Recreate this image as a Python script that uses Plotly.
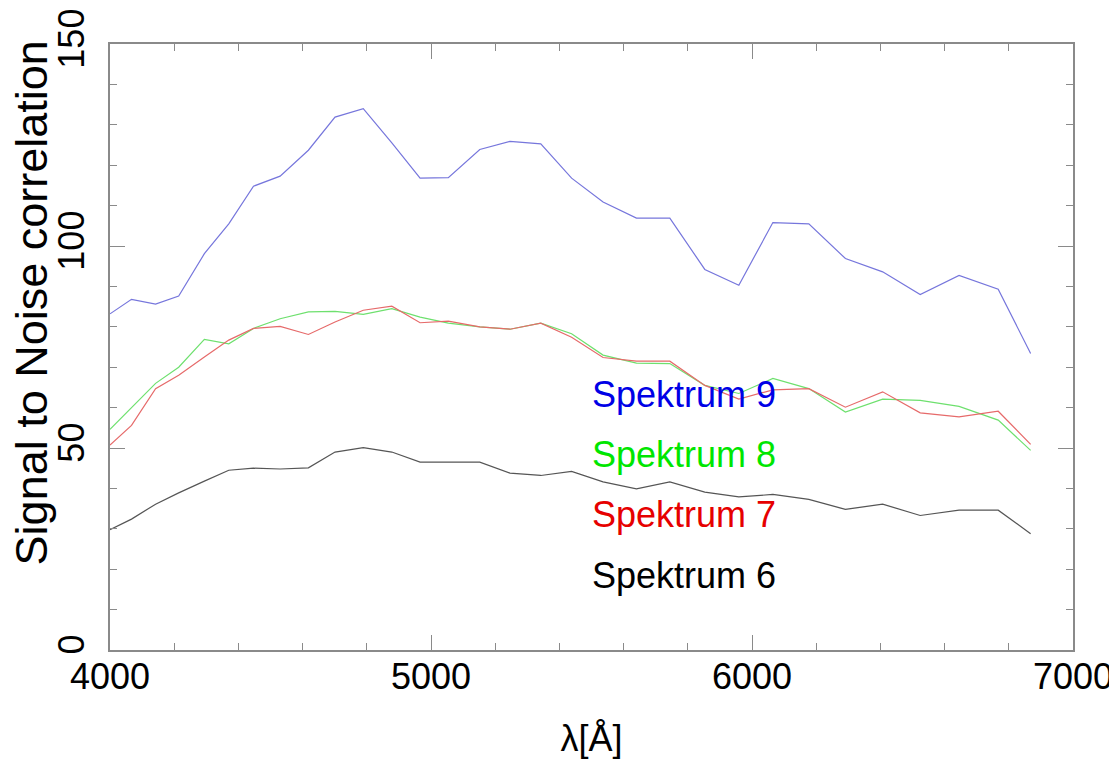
import plotly.graph_objects as go

wavelength = [4000, 4067, 4142, 4214, 4294, 4370, 4447, 4530, 4618, 4701, 4789,
              4878, 4966, 5054, 5152, 5246, 5342, 5438, 5536, 5640, 5744, 5853,
              5959, 6065, 6177, 6291, 6407, 6524, 6645, 6767, 6868]

spektrum9 = [83.2, 86.8, 85.6, 87.6, 98.1, 105.5, 114.8, 117.3, 123.7, 131.9, 134.0,
             125.5, 116.8, 116.9, 123.9, 125.9, 125.3, 116.8, 110.9, 106.9, 106.9, 94.2,
             90.3, 105.8, 105.5, 96.9, 93.6, 88.0, 92.7, 89.3, 73.4]
spektrum8 = [54.6, 60.1, 66.0, 70.0, 76.9, 75.8, 79.6, 82.0, 83.7, 83.8, 83.1,
             84.5, 82.4, 80.9, 80.0, 79.4, 80.9, 78.3, 73.0, 71.0, 70.9, 65.5,
             63.5, 67.2, 64.7, 58.9, 62.1, 61.8, 60.3, 56.9, 49.4]
spektrum7 = [50.7, 55.6, 64.7, 68.0, 72.5, 76.7, 79.6, 80.1, 78.1, 81.2, 84.1,
             85.1, 81.0, 81.4, 80.0, 79.4, 80.9, 77.4, 72.4, 71.5, 71.5, 65.5,
             62.1, 64.4, 64.7, 60.1, 63.9, 58.7, 57.7, 59.1, 50.9]
spektrum6 = [29.8, 32.4, 36.1, 38.9, 41.8, 44.5, 45.0, 44.8, 45.1, 49.0, 50.1,
             49.0, 46.5, 46.5, 46.5, 43.8, 43.2, 44.2, 41.6, 39.9, 41.6, 39.1,
             37.9, 38.5, 37.3, 34.8, 36.1, 33.3, 34.6, 34.6, 28.8]

series_names = ["Spektrum 9", "Spektrum 8", "Spektrum 7", "Spektrum 6"]
label_y = [63.3, 48.3, 33.5, 18.5]
label_x = 5495

FONT = "Liberation Sans, Arial, sans-serif"

fig = go.Figure()
series = [
    (spektrum9, "#7676dc", "#0000e6"),
    (spektrum8, "#6ee06e", "#00e600"),
    (spektrum7, "#e66a6a", "#e60000"),
    (spektrum6, "#555555", "#000000"),
]
for (vals, lcol, tcol), name, ly in zip(series, series_names, label_y):
    fig.add_trace(go.Scatter(x=wavelength, y=vals, mode="lines", name=name,
                             line=dict(color=lcol, width=1.2), showlegend=False))
    fig.add_annotation(x=label_x, y=ly, text=name, showarrow=False,
                       xanchor="left", yanchor="middle",
                       font=dict(family=FONT, size=36, color=tcol))

# y-axis title placed as rotated text (sits higher than axis centre in the reference)
fig.add_annotation(xref="paper", yref="paper", x=-0.082, y=0.572,
                   text="Signal to Noise correlation", textangle=-90, showarrow=False,
                   xanchor="center", yanchor="middle",
                   font=dict(family=FONT, size=45, color="black"))

axis_common = dict(
    showgrid=False, zeroline=False, showline=True, linecolor="#8a8a8a", linewidth=1.5,
    mirror="allticks", ticks="inside", tickcolor="#8a8a8a", tickwidth=1.2, ticklen=15,
    tickfont=dict(family=FONT, size=36, color="black"), automargin=False,
)

fig.update_xaxes(range=[4000, 7000], dtick=1000, tick0=4000, ticklabelstandoff=-6,
                 minor=dict(dtick=200, ticks="inside", ticklen=7, tickcolor="#8a8a8a", tickwidth=1.2),
                 title=dict(text="λ[Å]", font=dict(family=FONT, size=36, color="black"), standoff=30),
                 **axis_common)
fig.update_yaxes(range=[0, 150], dtick=50, tick0=0, tickangle=-90, ticklabelstandoff=10,
                 minor=dict(dtick=10, ticks="inside", ticklen=7, tickcolor="#8a8a8a", tickwidth=1.2),
                 **axis_common)

fig.update_layout(width=1117, height=765, paper_bgcolor="white", plot_bgcolor="white",
                  margin=dict(l=102, r=52, t=36, b=123))

fig.write_html("out.html")
